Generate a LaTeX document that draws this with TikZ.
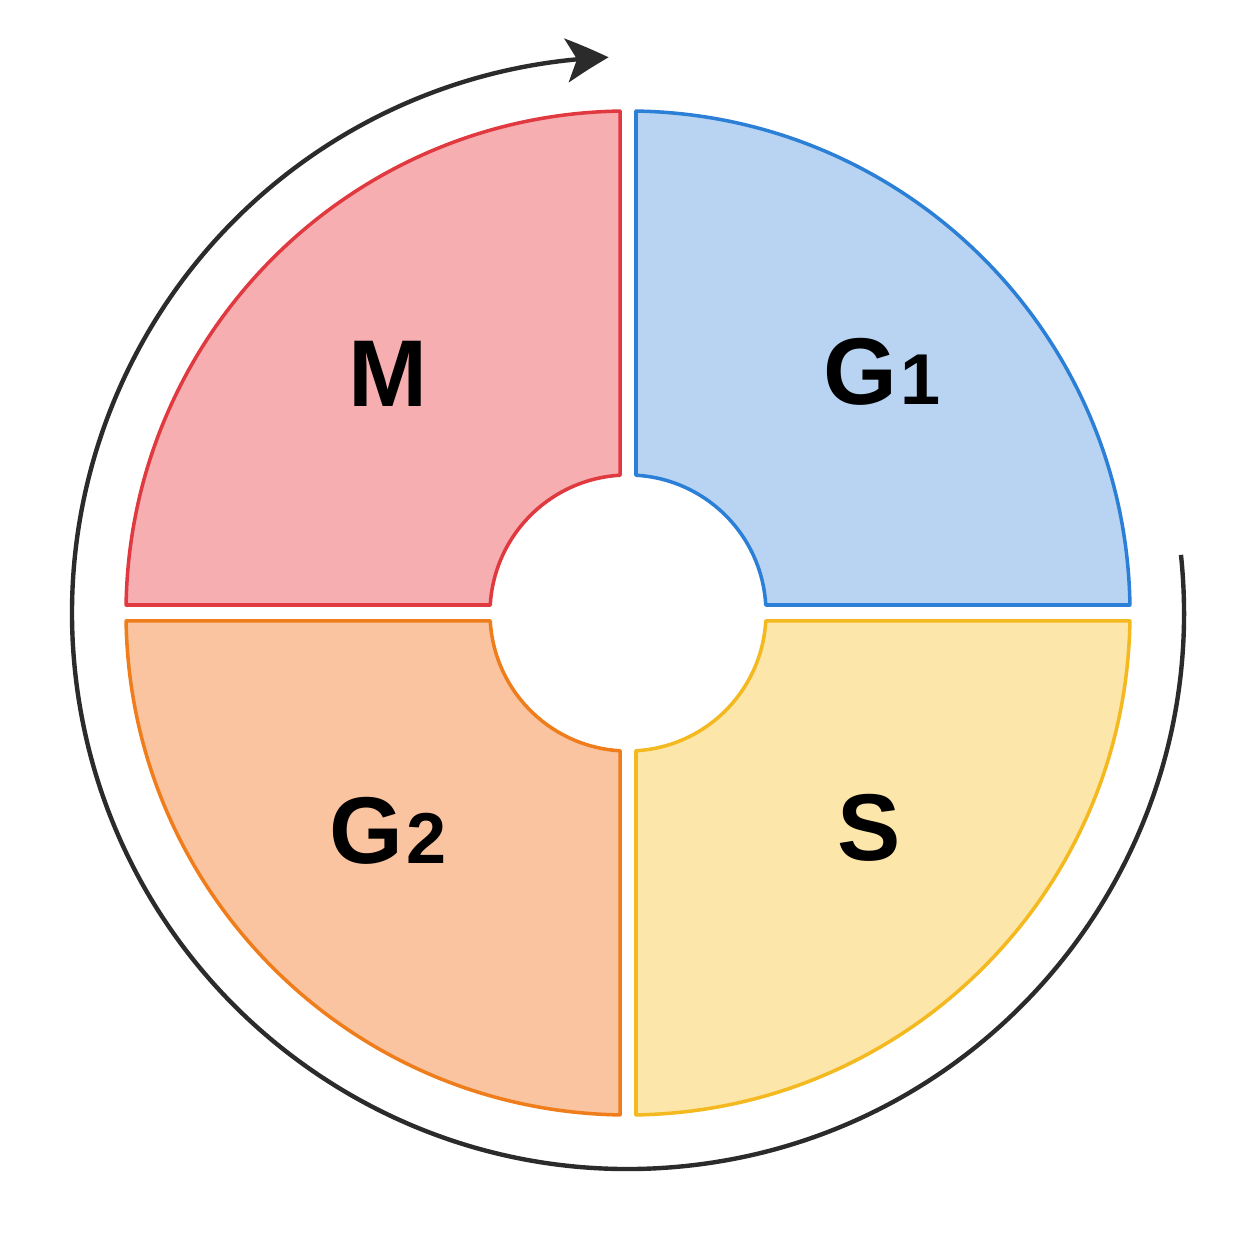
\documentclass[tikz,border=0pt]{standalone}
\usepackage{fontspec}
\setmainfont{Liberation Sans}
\usetikzlibrary{arrows.meta,bending}
\definecolor{redfill}{HTML}{F6AEB0}
\definecolor{redline}{HTML}{E0393F}
\definecolor{bluefill}{HTML}{B8D4F2}
\definecolor{blueline}{HTML}{2C7FD6}
\definecolor{orfill}{HTML}{F9C49F}
\definecolor{orline}{HTML}{F07D1C}
\definecolor{yelfill}{HTML}{FDE6A9}
\definecolor{yelline}{HTML}{F5B920}
\definecolor{arrowcol}{HTML}{2B2B2B}
\begin{document}
\begin{tikzpicture}[x=0.02cm,y=0.02cm,
  quad/.style={line width=2pt, line join=round},
  lbl/.style={font=\fontsize{54}{54}\selectfont\bfseries, inner sep=0pt, text=black},
  cyc/.style={line width=2.5pt, draw=arrowcol, -{Stealth[length=24pt,width=25pt,inset=6pt,bend]}}]
\useasboundingbox (0,0) rectangle (1254,1254);
\fill[white] (0,0) rectangle (1254,1254);
\begin{scope}[shift={(628,641)}]
% blue (top right)
\path[quad, fill=bluefill, draw=blueline] (86.68:138) -- (89.087:502) arc[start angle=89.087, end angle=0.913, radius=502] -- (3.32:138) arc[start angle=3.32, end angle=86.68, radius=138] -- cycle;
% red (top left)
\path[quad, fill=redfill, draw=redline] (93.32:138) -- (90.913:502) arc[start angle=90.913, end angle=179.087, radius=502] -- (176.68:138) arc[start angle=176.68, end angle=93.32, radius=138] -- cycle;
% orange (bottom left)
\path[quad, fill=orfill, draw=orline] (183.32:138) -- (180.913:502) arc[start angle=180.913, end angle=269.087, radius=502] -- (266.68:138) arc[start angle=266.68, end angle=183.32, radius=138] -- cycle;
% yellow (bottom right)
\path[quad, fill=yelfill, draw=yelline] (273.32:138) -- (270.913:502) arc[start angle=270.913, end angle=359.087, radius=502] -- (356.68:138) arc[start angle=356.68, end angle=273.32, radius=138] -- cycle;
% cycle arrow
\coordinate (cstart) at (6:556);
\draw[cyc] (cstart) arc[start angle=6, end angle=-268, radius=556];
\end{scope}
\node[lbl] (m) at (388,880) {M};
\node[lbl] (g1) at (882,882) {G\kern2pt\fontsize{41}{41}\selectfont 1};
\node[lbl] (g2) at (388,423) {G\kern2pt\fontsize{41}{41}\selectfont 2};
\node[lbl] (s) at (869,426) {S};
\end{tikzpicture}
\end{document}
